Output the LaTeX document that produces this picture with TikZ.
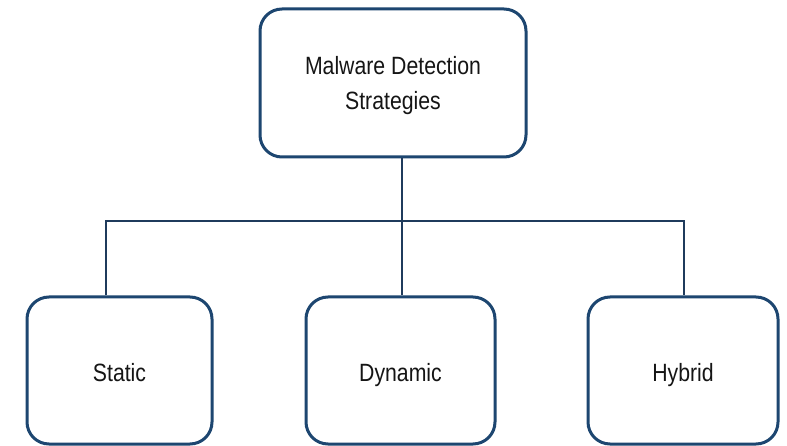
\documentclass[tikz,border=0pt]{standalone}
\usepackage{fontspec}
\setmainfont{Liberation Sans}[FakeStretch=0.85]
\definecolor{boxblue}{HTML}{1D4670}
\definecolor{linecol}{HTML}{1F3B5C}
\definecolor{txt}{HTML}{151515}
\tikzset{
  box/.style={draw=boxblue, line width=3pt, rounded corners=22pt, fill=white,
    text=txt, align=center, inner sep=0pt,
    font=\fontsize{25}{35}\selectfont},
  leaf/.style={box, minimum height=147pt, text height=22pt, text depth=0pt},
  conn/.style={draw=linecol, line width=1.8pt}
}
\begin{document}
\begin{tikzpicture}[x=1pt,y=-1pt]
\useasboundingbox (0,0) rectangle (787,446);
\fill[white] (0,0) rectangle (787,446);
\coordinate (bus) at (402,221);
\node[box, minimum width=266pt, minimum height=148pt, text depth=0pt] (top) at (393,83) {Malware Detection\\Strategies};
\node[leaf, minimum width=185pt] (st) at (119.5,370.5) {Static};
\node[leaf, minimum width=189pt] (dyn) at (400.5,370.5) {Dynamic};
\node[leaf, minimum width=190pt] (hy) at (683,370.5) {Hybrid};
\draw[conn] (top.south -| bus) -- (dyn.north -| bus);
\draw[conn] ([xshift=-13.5pt]st.north) |- (bus) -| ([xshift=1pt]hy.north);
\end{tikzpicture}
\end{document}
